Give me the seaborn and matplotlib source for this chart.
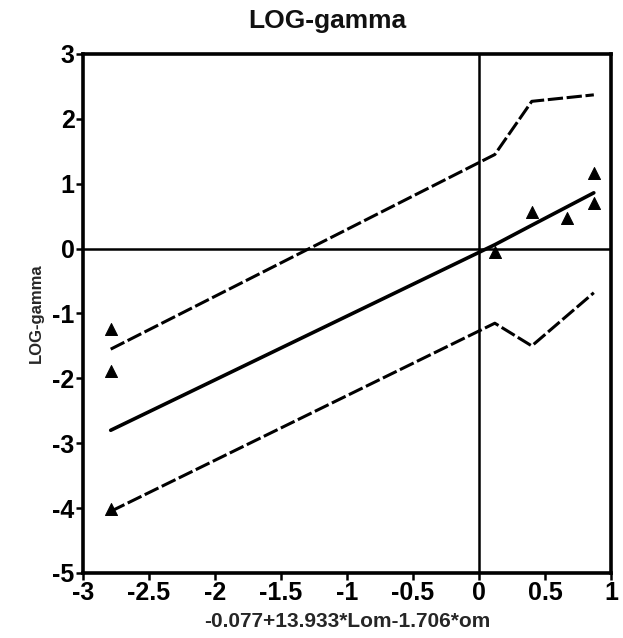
import matplotlib
matplotlib.use("Agg")
import matplotlib.pyplot as plt
import seaborn as sns

sns.set_theme(style="white")
plt.rcParams["font.family"] = ["Liberation Sans", "DejaVu Sans"]

# Observed points
obs_x = [-2.79, -2.79, -2.79, 0.12, 0.40, 0.67, 0.87, 0.87]
obs_y = [-1.24, -1.89, -4.02, -0.06, 0.56, 0.47, 1.16, 0.71]

# Fitted line and confidence band
fit_x = [-2.79, 0.12, 0.40, 0.87]
fit_y = [-2.80, 0.06, 0.36, 0.86]
upper_y = [-1.55, 1.45, 2.27, 2.37]
lower_y = [-4.05, -1.15, -1.50, -0.68]

xticks = [-3, -2.5, -2, -1.5, -1, -0.5, 0, 0.5, 1]
yticks = [-5, -4, -3, -2, -1, 0, 1, 2, 3]

fig = plt.figure(figsize=(6.23, 6.38), dpi=100)
ax = fig.add_axes([0.1332, 0.1019, 0.8475, 0.8135])

ax.axhline(0, color="black", lw=1.8, zorder=1)
ax.axvline(0, color="black", lw=1.8, zorder=1)

sns.lineplot(x=fit_x, y=fit_y, ax=ax, color="black", lw=2.6, sort=False)
sns.lineplot(x=fit_x, y=upper_y, ax=ax, color="black", lw=2.2, sort=False,
             linestyle=(0, (5, 1.2)))
sns.lineplot(x=fit_x, y=lower_y, ax=ax, color="black", lw=2.2, sort=False,
             linestyle=(0, (5, 1.2)))
sns.scatterplot(x=obs_x, y=obs_y, ax=ax, marker="^", s=75, color="black",
                edgecolor="black", zorder=3)

ax.set_xlim(-3, 1)
ax.set_ylim(-5, 3)
ax.set_xticks(xticks)
ax.set_xticklabels([f"{t:g}" for t in xticks])
ax.set_yticks(yticks)
ax.set_yticklabels([f"{t:g}" for t in yticks])
for s in ax.spines.values():
    s.set_visible(True)
    s.set_color("black")
    s.set_linewidth(2.6)
ax.tick_params(axis="both", direction="out", length=5, width=1.8,
               colors="black", labelsize=18, pad=1,
               bottom=True, left=True)
for lbl in ax.get_xticklabels() + ax.get_yticklabels():
    lbl.set_fontweight("bold")

fig.text(327 / 623, 1 - 21 / 638, "LOG-gamma", fontsize=19,
         fontweight="bold", ha="center", va="center", color="#111111")
ax.set_xlabel("-0.077+13.933*Lom-1.706*om", fontsize=15,
              fontweight="bold", labelpad=5)
ax.set_ylabel("LOG-gamma", fontsize=12, fontweight="bold", labelpad=6)

fig.savefig("out.png", dpi=100)
